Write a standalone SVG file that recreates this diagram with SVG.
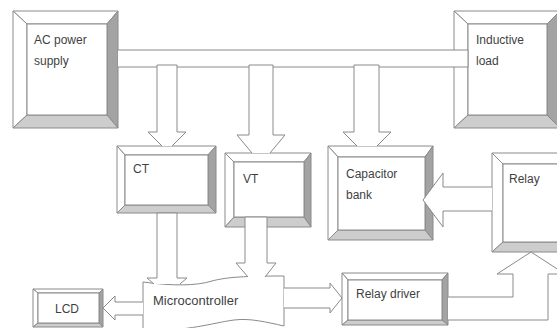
<svg xmlns="http://www.w3.org/2000/svg" width="557" height="328" viewBox="0 0 557 328">
  <style>
    .ln { stroke: #8a8a8a; stroke-width: 1; stroke-linejoin: miter; }
    .face { fill: #ffffff; }
    .lt { fill: #ffffff; }
    .dk { fill: #a3a3a3; }
    .md { fill: #cdcdcd; }
    .conn { fill: #ffffff; stroke: #8a8a8a; stroke-width: 1; }
    text { font-family: "Liberation Sans", Arial, sans-serif; font-size: 12px; fill: #3f3f3f; }
  </style>

  <rect width="557" height="328" fill="#ffffff"/>

  <!-- bevelled blocks -->
  <g id="ac-power-supply" class="ln">
    <polygon class="lt" points="13,11 118,11 107,24 27,24"/>
    <polygon class="lt" points="13,11 27,24 27,115 13,128"/>
    <polygon class="dk" points="118,11 118,128 107,115 107,24"/>
    <polygon class="md" points="13,128 118,128 107,115 27,115"/>
    <rect class="face" x="27" y="24" width="80" height="91"/>
    <text x="34" y="44" stroke="none">AC power</text>
    <text x="34" y="65" stroke="none">supply</text>
  </g>

  <g id="inductive-load" class="ln">
    <polygon class="lt" points="454,11 560,11 547,24 468,24"/>
    <polygon class="lt" points="454,11 468,24 468,115 454,128"/>
    <polygon class="dk" points="560,11 560,128 547,115 547,24"/>
    <polygon class="md" points="454,128 560,128 547,115 468,115"/>
    <rect class="face" x="468" y="24" width="79" height="91"/>
    <text x="476" y="44" stroke="none">Inductive</text>
    <text x="476" y="65" stroke="none">load</text>
  </g>

  <g id="ct" class="ln">
    <polygon class="lt" points="117,146 216,146 208,155 125,155"/>
    <polygon class="lt" points="117,146 125,155 125,205 117,213"/>
    <polygon class="dk" points="216,146 216,213 208,205 208,155"/>
    <polygon class="md" points="117,213 216,213 208,205 125,205"/>
    <rect class="face" x="125" y="155" width="83" height="50"/>
    <text x="133" y="173" stroke="none">CT</text>
  </g>

  <g id="vt" class="ln">
    <polygon class="lt" points="225,153 311,153 304,162 234,162"/>
    <polygon class="lt" points="225,153 234,162 234,217 225,227"/>
    <polygon class="dk" points="311,153 311,227 304,217 304,162"/>
    <polygon class="md" points="225,227 311,227 304,217 234,217"/>
    <rect class="face" x="234" y="162" width="70" height="55"/>
    <text x="243" y="183" stroke="none">VT</text>
  </g>

  <g id="capacitor-bank" class="ln">
    <polygon class="lt" points="328,146 433,146 425,157 338,157"/>
    <polygon class="lt" points="328,146 338,157 338,230 328,240"/>
    <polygon class="dk" points="433,146 433,240 425,230 425,157"/>
    <polygon class="md" points="328,240 433,240 425,230 338,230"/>
    <rect class="face" x="338" y="157" width="87" height="73"/>
    <text x="346" y="178" stroke="none">Capacitor</text>
    <text x="346" y="199" stroke="none">bank</text>
  </g>

  <g id="relay" class="ln">
    <polygon class="lt" points="492,153 570,153 560,164 503,164"/>
    <polygon class="lt" points="492,153 503,164 503,242 492,252"/>
    <polygon class="dk" points="570,153 570,252 560,242 560,164"/>
    <polygon class="md" points="492,252 570,252 560,242 503,242"/>
    <rect class="face" x="503" y="164" width="57" height="78"/>
    <text x="509" y="183" stroke="none">Relay</text>
  </g>

  <g id="relay-driver" class="ln">
    <polygon class="lt" points="342,273 448,273 442,280 348,280"/>
    <polygon class="lt" points="342,273 348,280 348,320 342,325"/>
    <polygon class="dk" points="448,273 448,325 442,320 442,280"/>
    <polygon class="md" points="342,325 448,325 442,320 348,320"/>
    <rect class="face" x="348" y="280" width="94" height="40"/>
    <text x="356" y="298" stroke="none">Relay driver</text>
  </g>

  <g id="lcd" class="ln">
    <polygon class="lt" points="33,289 103,289 99,293 38,293"/>
    <polygon class="lt" points="33,289 38,293 38,323 33,327"/>
    <polygon class="dk" points="103,289 103,327 99,323 99,293"/>
    <polygon class="md" points="33,327 103,327 99,323 38,323"/>
    <rect class="face" x="38" y="293" width="61" height="30"/>
    <text x="55" y="313" stroke="none">LCD</text>
  </g>

  <g id="microcontroller" class="ln">
    <path class="face" d="M143,282 C172,286 196,286 212,281 C227,277 245,276 284,276 L284,326 C266,322 250,318 234,320 C212,323 190,331 143,331 Z"/>
    <text x="153" y="305" stroke="none" style="font-size:13px">Microcontroller</text>
  </g>

  <!-- block-arrow connectors -->
  <g id="connectors">
    <!-- supply bus -->
    <path class="conn" d="M118,50 L468,50 L468,67 L118,67"/>
    <!-- bus taps -->
    <path class="conn" d="M162,146 L148,132 L157,132 L157,65 L177,65 L177,132 L186,132 L172,146"/>
    <path class="conn" d="M252,153 L237,135 L249,135 L249,65 L273,65 L273,135 L285,135 L270,153"/>
    <path class="conn" d="M357,146 L343,132 L354,132 L354,65 L379,65 L379,132 L391,132 L377,146"/>
    <!-- sensors to microcontroller -->
    <path class="conn" d="M154,284 L147,278 L157,278 L157,213 L177,213 L177,278 L187,278 L180,284"/>
    <path class="conn" d="M248,277 L236,263 L245,263 L245,217 L267,217 L267,263 L276,263 L265,277"/>
    <!-- microcontroller outputs -->
    <path class="conn" d="M143,302 L115,302 L115,296 L103,308 L115,320 L115,315 L143,315"/>
    <path class="conn" d="M284,288 L330,288 L330,283 L342,298 L330,313 L330,308 L284,308"/>
    <!-- relay driver to relay -->
    <path class="conn" d="M448,297 L513,297 L513,274 L497,274 L531,252 L565,274 L548,274 L548,320 L448,320"/>
    <!-- relay to capacitor bank -->
    <path class="conn" d="M492,187 L443,187 L443,173 L423,200 L443,227 L443,211 L492,211"/>
  </g>
</svg>
